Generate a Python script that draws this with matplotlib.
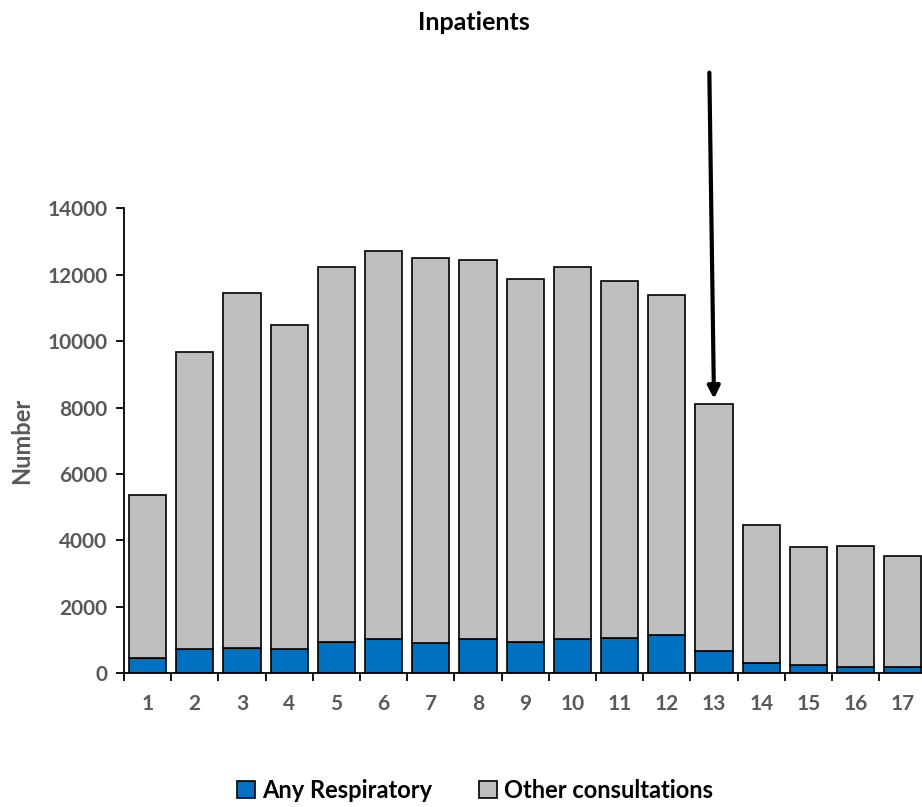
import matplotlib.pyplot as plt
from matplotlib.patches import Patch

plt.rcParams['font.family'] = ['Lato', 'DejaVu Sans']

weeks = list(range(1, 18))
week_labels = [str(w) for w in weeks]
respiratory = [452, 723, 753, 723, 952, 1024, 922, 1024, 952, 1024, 1075, 1156, 665, 295, 235, 199, 199]
totals = [5360, 9684, 11442, 10488, 12244, 12716, 12515, 12445, 11864, 12244, 11822, 11392, 8100, 4470, 3800, 3835, 3530]
other = [t - r for t, r in zip(totals, respiratory)]

blue = '#0070C0'
grey = '#BFBFBF'
tick_grey = '#595959'

fig = plt.figure(figsize=(9.22, 8.07), dpi=100)
ax = fig.add_axes([0.1345, 0.1657, 0.8703, 0.5762])

ax.bar(weeks, respiratory, width=0.79, color=blue, edgecolor='black', linewidth=1.2)
ax.bar(weeks, other, bottom=respiratory, width=0.79, color=grey, edgecolor='black', linewidth=1.2)

ax.set_xlim(0.5, 17.5)
ax.set_ylim(0, 14000)
ax.set_yticks(range(0, 14001, 2000))
ax.set_xticks(weeks)
ax.set_xticklabels(week_labels)
ax.set_xticks([w + 0.5 for w in range(0, 18)], minor=True)
ax.tick_params(axis='x', which='major', length=0, pad=15, labelsize=15, labelcolor=tick_grey)
ax.tick_params(axis='x', which='minor', length=6, width=1.3, direction='out')
ax.tick_params(axis='y', length=6, width=1.3, labelsize=15, labelcolor=tick_grey, pad=6)
for lab in ax.get_xticklabels() + ax.get_yticklabels():
    lab.set_fontweight('bold')

for side in ['top', 'right']:
    ax.spines[side].set_visible(False)
for side in ['left', 'bottom']:
    ax.spines[side].set_linewidth(1.3)

ax.set_ylabel('Number', fontsize=17, fontweight='bold', color=tick_grey, labelpad=10)

fig.text(0.514, 0.972, 'Inpatients', ha='center', va='center', fontsize=18, fontweight='bold')

# arrow pointing at week 13
ax.annotate('', xy=(13, totals[12] + 80), xytext=(12.9, 18170),
            arrowprops=dict(arrowstyle='-|>', color='black', lw=3, mutation_scale=18),
            annotation_clip=False)

handles = [Patch(facecolor=blue, edgecolor='black', linewidth=1.2, label='Any Respiratory'),
           Patch(facecolor=grey, edgecolor='black', linewidth=1.2, label='Other consultations')]
fig.legend(handles=handles, loc='center', bbox_to_anchor=(0.515, 0.021), ncol=2, frameon=False,
           prop={'size': 17, 'weight': 'bold'}, handlelength=0.75, handleheight=0.75,
           handletextpad=0.3, columnspacing=2.0)

fig.savefig('out.png', dpi=100)
